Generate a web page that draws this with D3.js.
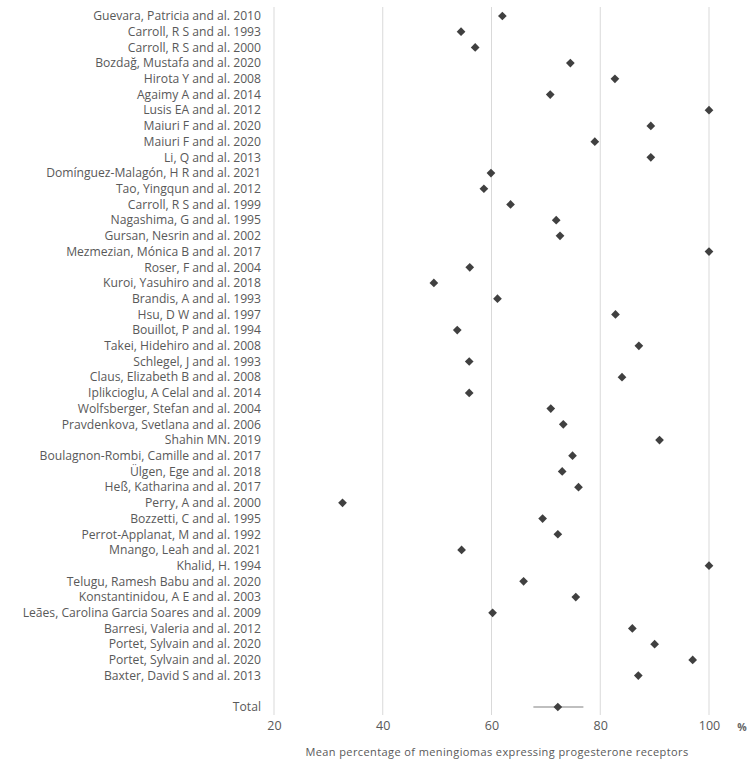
<!DOCTYPE html>
<html><head><meta charset="utf-8">
<script src="https://cdn.jsdelivr.net/npm/d3@7"></script>
<style>body{margin:0;background:#fff}</style>
</head><body>
<svg id="c" width="750" height="762"></svg>
<script>
const studies = [
"Guevara, Patricia and al. 2010","Carroll, R S and al. 1993","Carroll, R S and al. 2000","Bozdağ, Mustafa and al. 2020",
"Hirota Y and al. 2008","Agaimy A and al. 2014","Lusis EA and al. 2012","Maiuri F and al. 2020","Maiuri F and al. 2020",
"Li, Q and al. 2013","Domínguez-Malagón, H R and al. 2021","Tao, Yingqun and al. 2012","Carroll, R S and al. 1999",
"Nagashima, G and al. 1995","Gursan, Nesrin and al. 2002","Mezmezian, Mónica B and al. 2017","Roser, F and al. 2004",
"Kuroi, Yasuhiro and al. 2018","Brandis, A and al. 1993","Hsu, D W and al. 1997","Bouillot, P and al. 1994",
"Takei, Hidehiro and al. 2008","Schlegel, J and al. 1993","Claus, Elizabeth B and al. 2008","Iplikcioglu, A Celal and al. 2014",
"Wolfsberger, Stefan and al. 2004","Pravdenkova, Svetlana and al. 2006","Shahin MN. 2019","Boulagnon-Rombi, Camille and al. 2017",
"Ülgen, Ege and al. 2018","Heß, Katharina and al. 2017","Perry, A and al. 2000","Bozzetti, C and al. 1995",
"Perrot-Applanat, M and al. 1992","Mnango, Leah and al. 2021","Khalid, H. 1994","Telugu, Ramesh Babu and al. 2020",
"Konstantinidou, A E and al. 2003","Leães, Carolina Garcia Soares and al. 2009","Barresi, Valeria and al. 2012",
"Portet, Sylvain and al. 2020","Portet, Sylvain and al. 2020","Baxter, David S and al. 2013"
];
const values = [
62.0,54.4,57.0,74.5,82.7,70.8,100,89.3,79.0,89.3,59.9,58.6,63.5,71.9,72.6,100,
56.0,49.4,61.1,82.8,53.7,87.1,55.9,84.0,55.9,70.9,73.2,90.9,74.9,73.0,76.0,32.6,
69.4,72.2,54.5,100,65.9,75.5,60.2,85.9,90.0,97.0,87.0
];
const totalLabel = "Total";
const totalValue = 72.2;
const totalCI = [67.7, 76.9];
const xTicks = [20,40,60,80,100];
const xTitle = "Mean percentage of meningiomas expressing progesterone receptors";
const unitLabel = "%";

const svg = d3.select("#c");
const x = d3.scaleLinear().domain([20,100]).range([274,709]);
const y = d3.scaleLinear().domain([0,44]).range([16,707]);
const totalIndex = studies.length + 1;
const font = "'Open Sans', Lato, sans-serif";

// gridlines
svg.append("g").selectAll("line").data(xTicks).join("line")
  .attr("x1",d=>x(d)).attr("x2",d=>x(d)).attr("y1",7).attr("y2",715)
  .attr("stroke","#d9d9d9").attr("stroke-width",1);

// x axis tick labels
const xAxis = d3.axisBottom(x).tickValues(xTicks).tickSize(0).tickPadding(0);
const gx = svg.append("g").attr("transform","translate(0,721)").call(xAxis);
gx.select(".domain").remove();
gx.selectAll("text").attr("font-family",font).attr("font-size",12.5).attr("fill","#595959");

svg.append("text").attr("x",742).attr("y",731).attr("text-anchor","middle")
  .attr("font-family",font).attr("font-size",10.5).attr("font-weight","bold").attr("fill","#666").text(unitLabel);

svg.append("text").attr("x",497).attr("y",756).attr("text-anchor","middle")
  .attr("font-family",font).attr("font-size",11).attr("letter-spacing",0.4).attr("fill","#595959").text(xTitle);

// labels
const allLabels = studies.map((s,i)=>({s,i})).concat([{s:totalLabel,i:totalIndex}]);
svg.append("g").selectAll("text").data(allLabels).join("text")
  .attr("x",261).attr("y",d=>y(d.i)).attr("dy","0.35em").attr("text-anchor","end")
  .attr("font-family",font).attr("font-size",12.15).attr("fill","#595959")
  .text(d=>d.s);

// total CI
svg.append("line").attr("x1",x(totalCI[0])).attr("x2",x(totalCI[1]))
  .attr("y1",y(totalIndex)).attr("y2",y(totalIndex)).attr("stroke","#808080").attr("stroke-width",1.2);

const diamond = d3.symbol(d3.symbolSquare, 38);
const pts = values.map((v,i)=>({v,i})).concat([{v:totalValue,i:totalIndex}]);
svg.append("g").selectAll("path").data(pts).join("path")
  .attr("d",diamond)
  .attr("transform",d=>`translate(${x(d.v)},${y(d.i)}) rotate(45)`)
  .attr("fill","#404040");
</script>
</body></html>
